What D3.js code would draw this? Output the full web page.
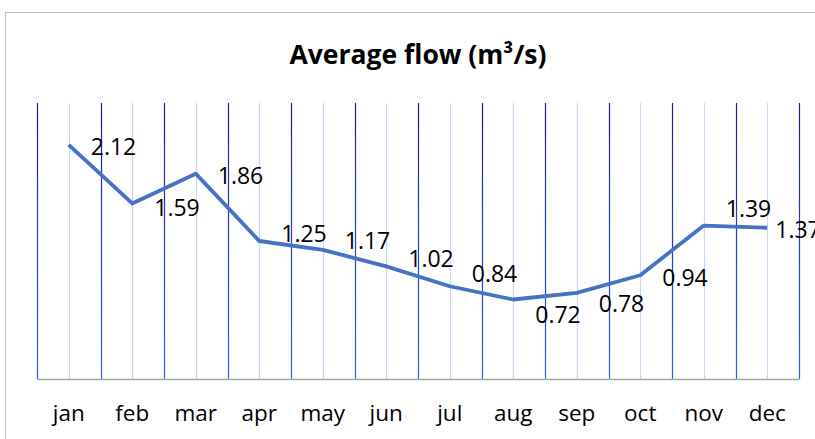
<!DOCTYPE html>
<html>
<head>
<meta charset="utf-8">
<script src="https://cdn.jsdelivr.net/npm/d3@7"></script>
<style>
  body { margin: 0; background: #fff; }
  svg { display: block; font-family: "Open Sans", sans-serif; }
</style>
</head>
<body>
<div id="chart"></div>
<script>

let w = 815;
let h = 439;

// data
let months = ["jan", "feb", "mar", "apr", "may", "jun", "jul", "aug", "sep", "oct", "nov", "dec"];
let flow = [2.12, 1.59, 1.86, 1.25, 1.17, 1.02, 0.84, 0.72, 0.78, 0.94, 1.39, 1.37];
let title = "Average flow (m³/s)";

let plot = {left: 37, right: 799, top: 103, bottom: 379};

let svg = d3.select("#chart").append("svg")
	.attr("width", w)
	.attr("height", h);

// chart frame
svg.append("rect")
	.attr("x", 5.5).attr("y", 12.5)
	.attr("width", 840).attr("height", 460)
	.attr("fill", "none")
	.attr("stroke", "#bfbfbf")
	.attr("stroke-width", 1);

svg.append("text")
	.attr("x", (plot.left + plot.right) / 2)
	.attr("y", 64)
	.attr("text-anchor", "middle")
	.attr("font-size", 26.5)
	.attr("font-weight", "bold")
	.attr("fill", "#000")
	.text(title);

let xBand = d3.scaleBand().domain(months).range([plot.left, plot.right]);
let x = d => xBand(d) + xBand.bandwidth() / 2;
let y = d3.scaleLinear().domain([0, 2.5]).range([plot.bottom, plot.top]);

let defs = svg.append("defs");
let grad = defs.append("linearGradient")
	.attr("id", "darkGrid")
	.attr("gradientUnits", "userSpaceOnUse")
	.attr("x1", 0).attr("x2", 0)
	.attr("y1", plot.top).attr("y2", plot.bottom);
grad.append("stop").attr("offset", "0%").attr("stop-color", "#1b1f8a");
grad.append("stop").attr("offset", "100%").attr("stop-color", "#2f5ce8");

let grid = svg.append("g").attr("class", "grid");

// light lines at category centres
grid.selectAll(".mid").data(months).enter()
	.append("line")
	.attr("class", "mid")
	.attr("x1", d => Math.round(x(d)) + 0.5)
	.attr("x2", d => Math.round(x(d)) + 0.5)
	.attr("y1", plot.top).attr("y2", plot.bottom)
	.attr("stroke", "#c9d5f2")
	.attr("stroke-width", 1.2);

// darker lines at category boundaries
let bounds = months.map(m => xBand(m)).concat([plot.right]);
grid.selectAll(".edge").data(bounds).enter()
	.append("line")
	.attr("class", "edge")
	.attr("x1", d => Math.round(d) + 0.5)
	.attr("x2", d => Math.round(d) + 0.5)
	.attr("y1", plot.top).attr("y2", plot.bottom)
	.attr("stroke", "url(#darkGrid)")
	.attr("stroke-width", 1.2);

// x axis
let xAxis = svg.append("g")
	.attr("transform", `translate(0,${plot.bottom})`)
	.call(d3.axisBottom(xBand).tickSize(0).tickPadding(26));
xAxis.select(".domain").attr("stroke", "#a6a6a6").attr("stroke-width", 1.3);
xAxis.selectAll("text")
	.attr("font-family", "'Open Sans', sans-serif")
	.attr("font-size", 22.5)
	.attr("fill", "#000");

// the line
let line = d3.line()
	.x((d, i) => x(months[i]))
	.y(d => y(d));

svg.append("path")
	.datum(flow)
	.attr("d", line)
	.attr("fill", "none")
	.attr("stroke", "#4472c4")
	.attr("stroke-width", 3.8)
	.attr("stroke-linejoin", "round");

// labels sit right of the point; a few were nudged in the original
let nudge = {jan: 2, feb: 4, mar: 2, apr: -7, may: -9, jun: -8, jul: -13, aug: 15, sep: 11, oct: 2, nov: -17, dec: 2};
let shiftX = {dec: -14};

svg.selectAll(".lbl").data(flow).enter()
	.append("text")
	.attr("class", "lbl")
	.attr("x", (d, i) => x(months[i]) + 22 + (shiftX[months[i]] || 0))
	.attr("y", (d, i) => y(d) + (nudge[months[i]] || 0))
	.attr("dy", "0.36em")
	.attr("font-size", 23)
	.attr("fill", "#000")
	.text(d => d.toFixed(2));

</script>
</body>
</html>
